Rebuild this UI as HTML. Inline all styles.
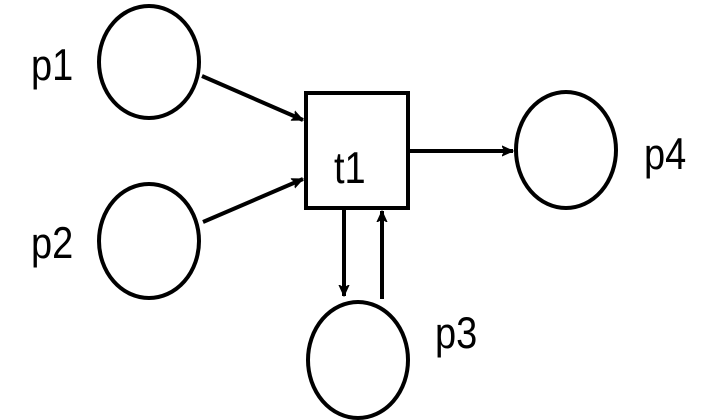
<!DOCTYPE html>
<html><head><style>body{margin:0;background:#fff}svg{display:block}</style></head><body>
<svg width="722" height="420" viewBox="0 0 722 420" xmlns="http://www.w3.org/2000/svg">
<defs><marker id="a" markerWidth="12" markerHeight="12" refX="11" refY="6" orient="auto" markerUnits="userSpaceOnUse"><path d="M0,1 L11,6 L0,11 L3,6 Z" fill="#000" stroke="#000" stroke-width="1"/></marker></defs>
<g fill="none" stroke="#000" stroke-width="4">
<ellipse cx="149" cy="62" rx="50" ry="56"/>
<ellipse cx="149" cy="241" rx="50" ry="57"/>
<ellipse cx="566" cy="150" rx="50" ry="58"/>
<ellipse cx="358" cy="360" rx="50" ry="58"/>
<rect x="306" y="93" width="102" height="115"/>
</g>
<g stroke="#000" stroke-width="4" marker-end="url(#a)">
<line x1="202" y1="76" x2="303" y2="120"/>
<line x1="203" y1="222" x2="303" y2="179"/>
<line x1="409" y1="151" x2="513" y2="151"/>
<line x1="344" y1="209" x2="344" y2="296"/>
<line x1="382" y1="299" x2="382" y2="211"/>
</g>
<g font-family="Liberation Sans, sans-serif" font-size="40" fill="#000">
<text transform="translate(31,80) scale(0.95,1.12)">p1</text>
<text transform="translate(31,258) scale(0.95,1.12)">p2</text>
<text transform="translate(334,183) scale(0.95,1.12)">t1</text>
<text transform="translate(644,169) scale(0.95,1.12)">p4</text>
<text transform="translate(435,348) scale(0.95,1.12)">p3</text>
</g>
</svg>
</body></html>
